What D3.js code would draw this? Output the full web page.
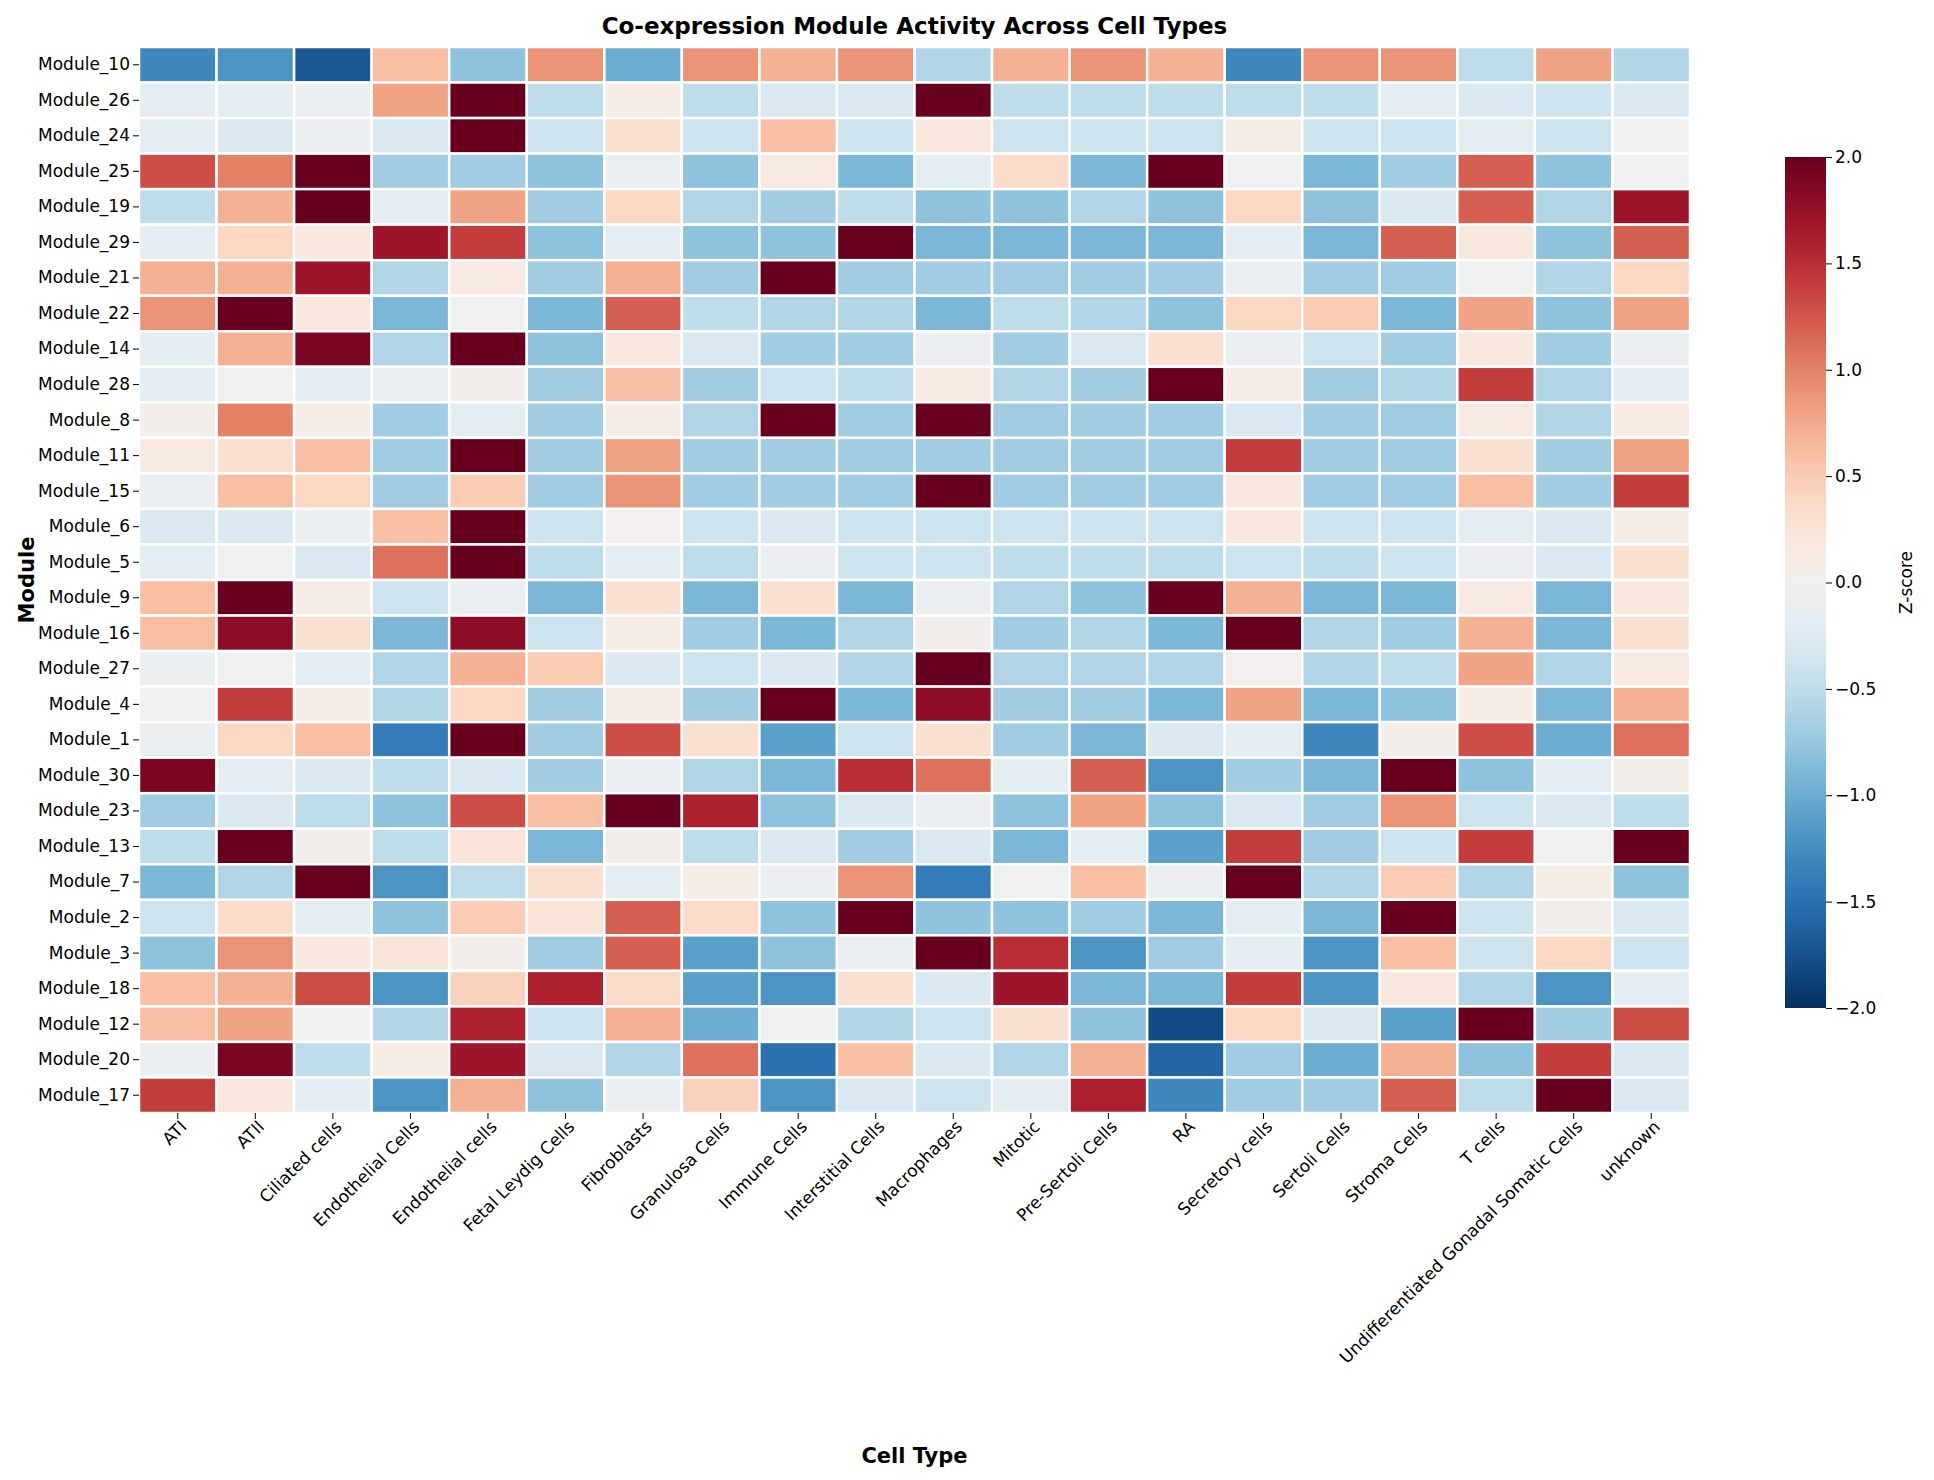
<!DOCTYPE html>
<html><head><meta charset="utf-8">
<script src="https://cdn.jsdelivr.net/npm/d3@7"></script>
<style>body{margin:0;background:#fff;font-family:"DejaVu Sans",sans-serif;}</style>
</head><body><svg id="c" width="1934" height="1480"></svg>
<script>
const cellTypes=["ATI","ATII","Ciliated cells","Endothelial Cells","Endothelial cells","Fetal Leydig Cells","Fibroblasts","Granulosa Cells","Immune Cells","Interstitial Cells","Macrophages","Mitotic","Pre-Sertoli Cells","RA","Secretory cells","Sertoli Cells","Stroma Cells","T cells","Undifferentiated Gonadal Somatic Cells","unknown"];
const modules=["Module_10","Module_26","Module_24","Module_25","Module_19","Module_29","Module_21","Module_22","Module_14","Module_28","Module_8","Module_11","Module_15","Module_6","Module_5","Module_9","Module_16","Module_27","Module_4","Module_1","Module_30","Module_23","Module_13","Module_7","Module_2","Module_3","Module_18","Module_12","Module_20","Module_17"];
const zscores=[
[-1.3,-1.2,-1.7,0.6,-0.8,0.9,-1.0,0.9,0.7,0.9,-0.6,0.7,0.9,0.7,-1.3,0.9,0.9,-0.5,0.8,-0.6],
[-0.2,-0.2,-0.1,0.8,2,-0.5,0.1,-0.5,-0.3,-0.3,2,-0.5,-0.5,-0.5,-0.5,-0.5,-0.2,-0.3,-0.4,-0.3],
[-0.2,-0.3,-0.1,-0.3,2,-0.4,0.3,-0.4,0.6,-0.4,0.2,-0.4,-0.4,-0.4,0.1,-0.4,-0.4,-0.2,-0.4,-0.05],
[1.3,1.0,2,-0.7,-0.7,-0.8,-0.1,-0.8,0.15,-0.9,-0.2,0.35,-0.9,2,-0.05,-0.9,-0.7,1.2,-0.8,-0.05],
[-0.5,0.7,2,-0.2,0.8,-0.7,0.4,-0.6,-0.7,-0.5,-0.8,-0.8,-0.6,-0.8,0.4,-0.8,-0.3,1.2,-0.6,1.7],
[-0.2,0.4,0.2,1.7,1.4,-0.8,-0.2,-0.8,-0.8,2,-0.9,-0.9,-0.9,-0.9,-0.2,-0.9,1.2,0.2,-0.8,1.2],
[0.7,0.7,1.7,-0.6,0.15,-0.7,0.7,-0.7,2,-0.7,-0.7,-0.7,-0.7,-0.7,-0.1,-0.7,-0.7,-0.05,-0.6,0.4],
[0.9,2,0.2,-0.9,-0.05,-0.9,1.2,-0.5,-0.6,-0.6,-0.9,-0.5,-0.6,-0.8,0.4,0.5,-0.9,0.8,-0.8,0.8],
[-0.2,0.7,1.9,-0.6,2,-0.8,0.2,-0.3,-0.7,-0.7,-0.1,-0.7,-0.3,0.3,-0.1,-0.4,-0.7,0.2,-0.7,-0.1],
[-0.2,-0.05,-0.2,-0.1,0.05,-0.7,0.6,-0.7,-0.4,-0.5,0.15,-0.6,-0.7,2,0.1,-0.7,-0.6,1.4,-0.6,-0.2],
[0.05,1.0,0.1,-0.7,-0.2,-0.7,0.1,-0.6,2,-0.7,2,-0.7,-0.7,-0.7,-0.3,-0.7,-0.7,0.15,-0.6,0.15],
[0.15,0.3,0.6,-0.7,2,-0.7,0.8,-0.7,-0.7,-0.7,-0.7,-0.7,-0.7,-0.7,1.4,-0.7,-0.7,0.3,-0.7,0.8],
[-0.1,0.6,0.4,-0.7,0.5,-0.7,0.9,-0.7,-0.7,-0.7,2,-0.7,-0.7,-0.7,0.2,-0.7,-0.7,0.6,-0.7,1.4],
[-0.3,-0.3,-0.1,0.6,2,-0.4,0.0,-0.4,-0.3,-0.4,-0.4,-0.4,-0.4,-0.4,0.2,-0.4,-0.4,-0.2,-0.3,0.1],
[-0.2,-0.05,-0.3,1.1,2,-0.5,-0.2,-0.5,-0.1,-0.4,-0.4,-0.5,-0.5,-0.5,-0.4,-0.5,-0.4,-0.1,-0.3,0.3],
[0.6,2,0.1,-0.4,-0.1,-0.9,0.3,-0.9,0.3,-0.9,-0.1,-0.6,-0.8,2,0.7,-0.9,-0.9,0.15,-0.9,0.2],
[0.6,1.8,0.3,-0.9,1.8,-0.4,0.1,-0.7,-0.9,-0.6,0.05,-0.7,-0.6,-0.9,2,-0.6,-0.7,0.7,-0.9,0.3],
[-0.1,-0.05,-0.2,-0.6,0.7,0.5,-0.3,-0.4,-0.3,-0.6,2,-0.6,-0.6,-0.6,0.0,-0.6,-0.5,0.8,-0.6,0.15],
[-0.05,1.4,0.1,-0.6,0.4,-0.7,0.1,-0.7,2,-0.9,1.8,-0.7,-0.7,-0.9,0.8,-0.9,-0.8,0.1,-0.9,0.7],
[-0.1,0.4,0.6,-1.4,2,-0.7,1.3,0.3,-1.1,-0.4,0.3,-0.7,-0.9,-0.3,-0.2,-1.3,0.05,1.3,-1.0,1.1],
[1.9,-0.2,-0.3,-0.5,-0.3,-0.7,-0.1,-0.6,-0.9,1.5,1.1,-0.2,1.2,-1.2,-0.7,-0.9,2,-0.8,-0.2,0.05],
[-0.7,-0.3,-0.5,-0.8,1.3,0.6,2,1.6,-0.8,-0.3,-0.1,-0.8,0.8,-0.8,-0.3,-0.7,0.9,-0.4,-0.3,-0.5],
[-0.5,2,0.05,-0.5,0.25,-0.9,0.05,-0.5,-0.3,-0.7,-0.3,-0.9,-0.2,-1.1,1.4,-0.7,-0.4,1.4,-0.05,2],
[-0.9,-0.6,2,-1.2,-0.5,0.3,-0.2,0.1,-0.1,0.9,-1.4,-0.05,0.6,-0.1,2,-0.6,0.5,-0.6,0.1,-0.8],
[-0.4,0.35,-0.2,-0.8,0.5,0.25,1.2,0.35,-0.8,2,-0.8,-0.8,-0.7,-0.9,-0.2,-0.9,2,-0.4,0.05,-0.3],
[-0.8,0.9,0.2,0.25,0.05,-0.7,1.2,-1.1,-0.8,-0.1,2,1.5,-1.2,-0.7,-0.2,-1.2,0.6,-0.4,0.4,-0.4],
[0.6,0.7,1.3,-1.2,0.45,1.6,0.35,-1.1,-1.2,0.3,-0.3,1.7,-0.9,-0.9,1.4,-1.2,0.2,-0.6,-1.2,-0.2],
[0.6,0.8,-0.05,-0.6,1.6,-0.4,0.7,-1.0,-0.05,-0.6,-0.4,0.3,-0.8,-1.8,0.4,-0.3,-1.1,2,-0.7,1.3],
[-0.1,1.9,-0.5,0.1,1.7,-0.3,-0.6,1.1,-1.5,0.6,-0.3,-0.6,0.7,-1.6,-0.7,-1.0,0.7,-0.8,1.4,-0.3],
[1.4,0.2,-0.2,-1.2,0.7,-0.8,-0.1,0.45,-1.2,-0.3,-0.4,-0.2,1.6,-1.3,-0.7,-0.7,1.2,-0.5,2,-0.3]];
const cbTicks=[2.0,1.5,1.0,0.5,0.0,-0.5,-1.0,-1.5,-2.0];

const svg=d3.select("#c");
const L=139,R=1690,T=47,B=1113;
const x=d3.scaleBand().domain(cellTypes).range([L,R]);
const y=d3.scaleBand().domain(modules).range([T,B]);
const color=d3.scaleSequential(t=>d3.interpolateRdBu(1-t)).domain([-2,2]);
const cells=[];
zscores.forEach((row,i)=>row.forEach((v,j)=>cells.push({m:modules[i],c:cellTypes[j],v})));
svg.append("g").selectAll("rect").data(cells).join("rect")
 .attr("x",d=>x(d.c)).attr("y",d=>y(d.m)).attr("width",x.bandwidth()).attr("height",y.bandwidth())
 .attr("fill",d=>color(Math.max(-2,Math.min(2,d.v)))).attr("stroke","#fff").attr("stroke-width",2.5);
const ax=svg.append("g").attr("transform",`translate(0,${B})`).call(d3.axisBottom(x).tickSizeOuter(0).tickSize(6));
ax.select(".domain").remove();
ax.selectAll("text").attr("font-size",17).attr("font-family","DejaVu Sans").attr("fill","#000")
 .attr("text-anchor","end").attr("transform","rotate(-45)").attr("dx","-0.2em").attr("dy","0.5em");
const ay=svg.append("g").attr("transform",`translate(${L},0)`).call(d3.axisLeft(y).tickSizeOuter(0).tickSize(6));
ay.select(".domain").remove();
ay.selectAll("text").attr("font-size",17).attr("font-family","DejaVu Sans").attr("fill","#000");
svg.append("text").attr("x",(L+R)/2).attr("y",34).attr("text-anchor","middle").attr("font-size",23).attr("font-weight","bold").text("Co-expression Module Activity Across Cell Types");
svg.append("text").attr("x",(L+R)/2).attr("y",1463).attr("text-anchor","middle").attr("font-size",21).attr("font-weight","bold").text("Cell Type");
svg.append("text").attr("transform",`translate(34,${(T+B)/2}) rotate(-90)`).attr("text-anchor","middle").attr("font-size",21).attr("font-weight","bold").text("Module");
const cbX=1785,cbW=41,cbT=157,cbB=1008;
const cy=d3.scaleLinear().domain([-2,2]).range([cbB,cbT]);
const defs=svg.append("defs");
const g=defs.append("linearGradient").attr("id","cg").attr("x1",0).attr("y1",1).attr("x2",0).attr("y2",0);
d3.range(0,1.001,0.05).forEach(t=>g.append("stop").attr("offset",t).attr("stop-color",color(-2+4*t)));
svg.append("rect").attr("x",cbX).attr("y",cbT).attr("width",cbW).attr("height",cbB-cbT).attr("fill","url(#cg)");
const ac=svg.append("g").attr("transform",`translate(${cbX+cbW},0)`).call(d3.axisRight(cy).tickValues(cbTicks).tickFormat(d3.format(".1f")).tickSize(6));
ac.select(".domain").remove();
ac.selectAll("text").attr("font-size",17).attr("font-family","DejaVu Sans").attr("fill","#000");
svg.append("text").attr("transform",`translate(1912,${(cbT+cbB)/2}) rotate(-90)`).attr("text-anchor","middle").attr("font-size",17).text("Z-score");
</script></body></html>
